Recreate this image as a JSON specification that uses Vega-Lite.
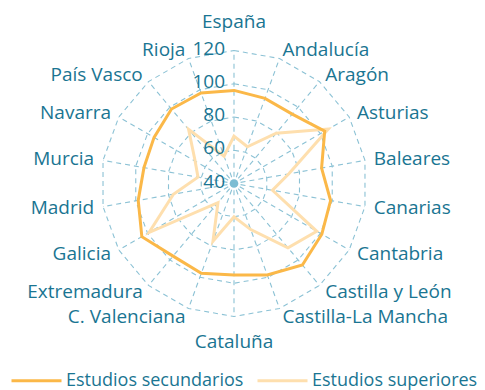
{
  "$schema": "https://vega.github.io/schema/vega-lite/v6.json",
  "width": 485,
  "height": 390,
  "padding": 0,
  "autosize": {"type": "none"},
  "background": "white",
  "config": {"view": {"stroke": null}, "font": "Open Sans"},
  "datasets": {
    "regions": [
      {"region": "España", "sec": 96, "sup": 68.5},
      {"region": "Andalucía", "sec": 94.5, "sup": 63.5},
      {"region": "Aragón", "sec": 94.5, "sup": 79.5},
      {"region": "Asturias", "sec": 103, "sup": 105.5},
      {"region": "Baleares", "sec": 93.5, "sup": 73.5},
      {"region": "Canarias", "sec": 99, "sup": 63.5},
      {"region": "Cantabria", "sec": 101, "sup": 97.5},
      {"region": "Castilla y León", "sec": 104, "sup": 90.5},
      {"region": "Castilla-La Mancha", "sec": 98.5, "sup": 69.5},
      {"region": "Cataluña", "sec": 95, "sup": 60},
      {"region": "C. Valenciana", "sec": 97.5, "sup": 77},
      {"region": "Extremadura", "sec": 97, "sup": 55},
      {"region": "Galicia", "sec": 104, "sup": 99},
      {"region": "Madrid", "sec": 98.5, "sup": 77},
      {"region": "Murcia", "sec": 95, "sup": 62},
      {"region": "Navarra", "sec": 95.5, "sup": 67},
      {"region": "País Vasco", "sec": 98.5, "sup": 82.5},
      {"region": "Rioja", "sec": 98, "sup": 57.5}
    ],
    "levels": [{"level": 40}, {"level": 60}, {"level": 80}, {"level": 100}, {"level": 120}]
  },
  "layer": [
    {
      "data": {"name": "regions"},
      "transform": [
        {"window": [{"op": "row_number", "as": "rn"}]},
        {"calculate": "[20,40,60,80]", "as": "rr"},
        {"flatten": ["rr"]},
        {"calculate": "datum.rr*sin((datum.rn-1)*PI/9)", "as": "gx"},
        {"calculate": "datum.rr*cos((datum.rn-1)*PI/9)", "as": "gy"}
      ],
      "mark": {"type": "line", "interpolate": "linear-closed", "stroke": "#8CC2D5", "strokeWidth": 1.1, "strokeDash": [5, 4]},
      "encoding": {
        "x": {"field": "gx", "type": "quantitative", "scale": {"domain": [-140.75, 150.98], "nice": false, "zero": false}, "axis": null},
        "y": {"field": "gy", "type": "quantitative", "scale": {"domain": [-124.21, 110.38], "nice": false, "zero": false}, "axis": null},
        "detail": {"field": "rr"},
        "order": {"field": "rn"}
      }
    },
    {
      "data": {"name": "regions"},
      "transform": [
        {"window": [{"op": "row_number", "as": "rn"}]},
        {"calculate": "4*sin((datum.rn-1)*PI/9)", "as": "sx"},
        {"calculate": "4*cos((datum.rn-1)*PI/9)", "as": "sy"},
        {"calculate": "80*sin((datum.rn-1)*PI/9)", "as": "ex"},
        {"calculate": "80*cos((datum.rn-1)*PI/9)", "as": "ey"}
      ],
      "mark": {"type": "rule", "stroke": "#8CC2D5", "strokeWidth": 1.1, "strokeDash": [5, 4]},
      "encoding": {
        "x": {"field": "sx", "type": "quantitative", "scale": {"domain": [-140.75, 150.98], "nice": false, "zero": false}, "axis": null},
        "y": {"field": "sy", "type": "quantitative", "scale": {"domain": [-124.21, 110.38], "nice": false, "zero": false}, "axis": null},
        "x2": {"field": "ex"},
        "y2": {"field": "ey"}
      }
    },
    {
      "data": {"values": [{"c": 0}]},
      "mark": {"type": "point", "filled": true, "size": 75, "color": "#7DBDD3", "opacity": 1},
      "encoding": {
        "x": {"datum": 0, "type": "quantitative", "scale": {"domain": [-140.75, 150.98], "nice": false, "zero": false}, "axis": null},
        "y": {"datum": 0, "type": "quantitative", "scale": {"domain": [-124.21, 110.38], "nice": false, "zero": false}, "axis": null}
      }
    },
    {
      "data": {"name": "regions"},
      "transform": [
        {"window": [{"op": "row_number", "as": "rn"}]},
        {"calculate": "(datum.sup-40)*sin((datum.rn-1)*PI/9)", "as": "px"},
        {"calculate": "(datum.sup-40)*cos((datum.rn-1)*PI/9)", "as": "py"}
      ],
      "mark": {"type": "line", "interpolate": "linear-closed", "strokeWidth": 3, "strokeJoin": "miter"},
      "encoding": {
        "x": {"field": "px", "type": "quantitative", "scale": {"domain": [-140.75, 150.98], "nice": false, "zero": false}, "axis": null},
        "y": {"field": "py", "type": "quantitative", "scale": {"domain": [-124.21, 110.38], "nice": false, "zero": false}, "axis": null},
        "order": {"field": "rn"},
        "color": {"datum": "Estudios superiores", "type": "nominal",
          "scale": {"domain": ["Estudios secundarios", "Estudios superiores"], "range": ["#FBB848", "#FEDFAE"]},
          "legend": {"orient": "none", "legendX": 10, "legendY": 354, "direction": "horizontal", "title": null,
            "symbolType": "stroke", "symbolSize": 2500, "symbolStrokeWidth": 3, "labelFontSize": 18, "labelColor": "#1A7592",
            "labelFont": "Open Sans", "labelLimit": 400, "columnPadding": 7, "labelOffset": 3, "padding": 0}}
      }
    },
    {
      "data": {"name": "regions"},
      "transform": [
        {"window": [{"op": "row_number", "as": "rn"}]},
        {"calculate": "(datum.sec-40)*sin((datum.rn-1)*PI/9)", "as": "px"},
        {"calculate": "(datum.sec-40)*cos((datum.rn-1)*PI/9)", "as": "py"}
      ],
      "mark": {"type": "line", "interpolate": "linear-closed", "strokeWidth": 3, "strokeJoin": "miter"},
      "encoding": {
        "x": {"field": "px", "type": "quantitative", "scale": {"domain": [-140.75, 150.98], "nice": false, "zero": false}, "axis": null},
        "y": {"field": "py", "type": "quantitative", "scale": {"domain": [-124.21, 110.38], "nice": false, "zero": false}, "axis": null},
        "order": {"field": "rn"},
        "color": {"datum": "Estudios secundarios", "type": "nominal"}
      }
    },
    {
      "data": {"name": "levels"},
      "transform": [{"calculate": "datum.level-40", "as": "ly"}],
      "mark": {"type": "text", "align": "right", "baseline": "middle", "dx": -9, "dy": -2, "fontSize": 19, "color": "#1A7592"},
      "encoding": {
        "x": {"datum": 0, "type": "quantitative", "scale": {"domain": [-140.75, 150.98], "nice": false, "zero": false}, "axis": null},
        "y": {"field": "ly", "type": "quantitative", "scale": {"domain": [-124.21, 110.38], "nice": false, "zero": false}, "axis": null},
        "text": {"field": "level"}
      }
    },
    {
      "data": {"name": "regions"},
      "transform": [
        {"window": [{"op": "row_number", "as": "rn"}]},
        {"filter": "datum.rn >= 2 && datum.rn <= 9"},
        {"calculate": "85.4*sin((datum.rn-1)*PI/9)", "as": "lx"},
        {"calculate": "85.4*cos((datum.rn-1)*PI/9)", "as": "ly"}
      ],
      "mark": {"type": "text", "align": "left", "baseline": "middle", "fontSize": 19, "color": "#1A7592"},
      "encoding": {
        "x": {"field": "lx", "type": "quantitative", "scale": {"domain": [-140.75, 150.98], "nice": false, "zero": false}, "axis": null},
        "y": {"field": "ly", "type": "quantitative", "scale": {"domain": [-124.21, 110.38], "nice": false, "zero": false}, "axis": null},
        "text": {"field": "region"}
      }
    },
    {
      "data": {"name": "regions"},
      "transform": [
        {"window": [{"op": "row_number", "as": "rn"}]},
        {"filter": "datum.rn >= 11"},
        {"calculate": "85.4*sin((datum.rn-1)*PI/9)", "as": "lx"},
        {"calculate": "85.4*cos((datum.rn-1)*PI/9)", "as": "ly"}
      ],
      "mark": {"type": "text", "align": "right", "baseline": "middle", "fontSize": 19, "color": "#1A7592"},
      "encoding": {
        "x": {"field": "lx", "type": "quantitative", "scale": {"domain": [-140.75, 150.98], "nice": false, "zero": false}, "axis": null},
        "y": {"field": "ly", "type": "quantitative", "scale": {"domain": [-124.21, 110.38], "nice": false, "zero": false}, "axis": null},
        "text": {"field": "region"}
      }
    },
    {
      "data": {"name": "regions"},
      "transform": [
        {"window": [{"op": "row_number", "as": "rn"}]},
        {"filter": "datum.rn == 1 || datum.rn == 10"},
        {"calculate": "datum.rn == 1 ? 97 : -95.3", "as": "ly"}
      ],
      "mark": {"type": "text", "align": "center", "baseline": "middle", "fontSize": 19, "color": "#1A7592"},
      "encoding": {
        "x": {"datum": 0, "type": "quantitative", "scale": {"domain": [-140.75, 150.98], "nice": false, "zero": false}, "axis": null},
        "y": {"field": "ly", "type": "quantitative", "scale": {"domain": [-124.21, 110.38], "nice": false, "zero": false}, "axis": null},
        "text": {"field": "region"}
      }
    }
  ]
}
